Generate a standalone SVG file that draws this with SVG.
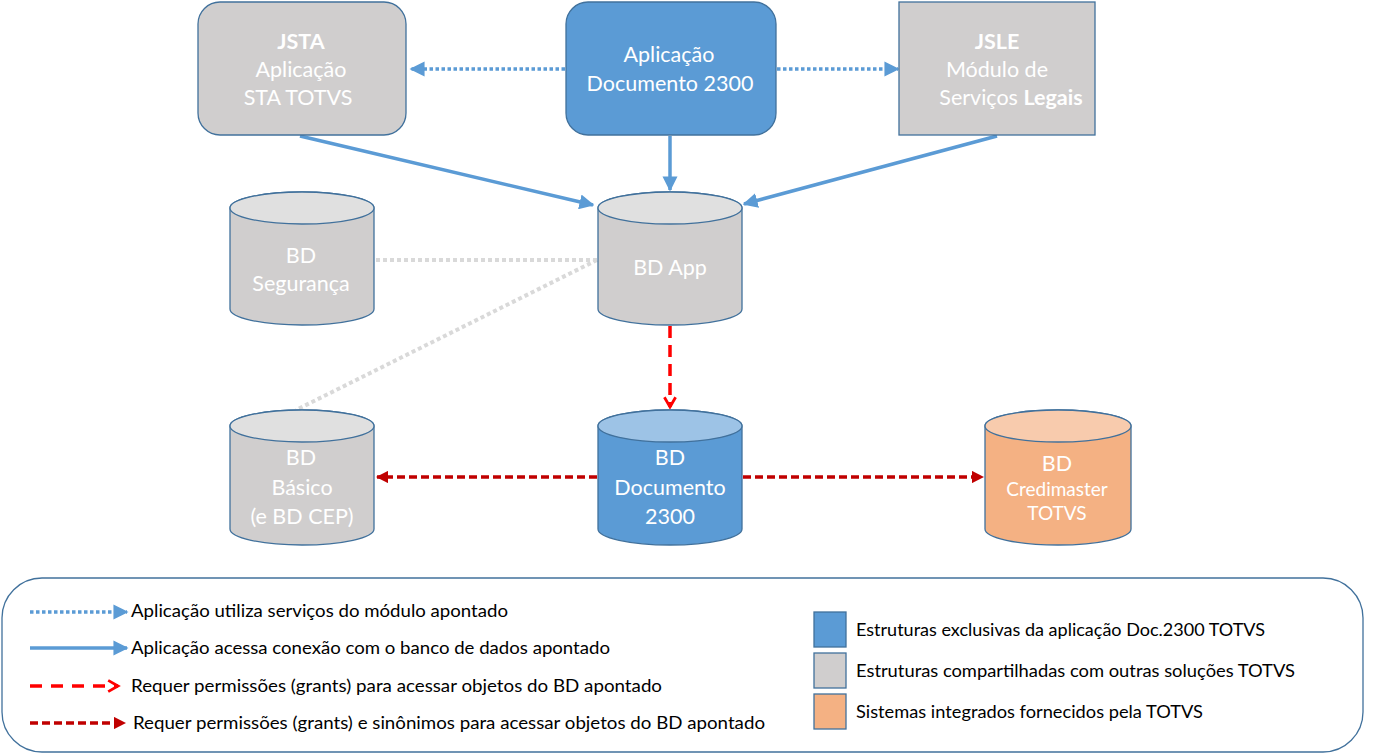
<svg xmlns="http://www.w3.org/2000/svg" width="1390" height="755" viewBox="0 0 1390 755">
<style>
.t{font-family:Lato,"Open Sans","Liberation Sans",sans-serif;fill:#fff;text-anchor:middle;font-size:21.5px}
.s{font-size:19px}
.lg{font-family:Lato,"Open Sans","Liberation Sans",sans-serif;fill:#000;font-size:17.5px}
.box{stroke:#41719c;stroke-width:1.3}
.gray{fill:#d0cece}
.blue{fill:#5b9bd5}
.orange{fill:#f4b183}
.dot{stroke:#5b9bd5;stroke-width:3.5;stroke-dasharray:3.5 2.5;fill:none}
.sol{stroke:#5b9bd5;stroke-width:3.5;fill:none}
.gdot{stroke:#d9d9d9;stroke-width:4;stroke-dasharray:4 3;fill:none}
.red{stroke:#ff0000;stroke-width:3.5;stroke-dasharray:12 7;fill:none}
.dred{stroke:#c00000;stroke-width:3.5;stroke-dasharray:8 4;fill:none}
</style>
<defs>
<marker id="ab" viewBox="0 0 10 10" refX="9" refY="5" markerWidth="4.3" markerHeight="4.3" orient="auto" markerUnits="strokeWidth"><path d="M0,0 L10,5 L0,10 z" fill="#5b9bd5"/></marker>
<marker id="ar" viewBox="0 0 10 10" refX="8" refY="5" markerWidth="4" markerHeight="4" orient="auto" markerUnits="strokeWidth"><path d="M1,1 L8,5 L1,9" fill="none" stroke="#ff0000" stroke-width="2"/></marker>
<marker id="ad" viewBox="0 0 10 10" refX="9" refY="5" markerWidth="3.5" markerHeight="3.5" orient="auto" markerUnits="strokeWidth"><path d="M0,0 L10,5 L0,10 z" fill="#c00000"/></marker>
</defs>

<g id="connectors">
<line class="dot" x1="565" y1="69" x2="411" y2="69" marker-end="url(#ab)"/>
<line class="dot" x1="777" y1="69" x2="898" y2="69" marker-end="url(#ab)"/>
<line class="sol" x1="300" y1="136" x2="593" y2="205" marker-end="url(#ab)"/>
<line class="sol" x1="670" y1="136" x2="670" y2="190" marker-end="url(#ab)"/>
<line class="sol" x1="997" y1="136" x2="744" y2="204" marker-end="url(#ab)"/>
<line class="gdot" x1="376" y1="260" x2="597" y2="260"/>
<line class="gdot" x1="597" y1="260" x2="296" y2="410"/>
<line class="red" x1="670" y1="326" x2="670" y2="407" marker-end="url(#ar)"/>
<line class="dred" x1="597" y1="477" x2="377" y2="477" marker-end="url(#ad)"/>
<line class="dred" x1="743" y1="477" x2="983" y2="477" marker-end="url(#ad)"/>
</g>

<g id="jsta">
<rect class="box gray" x="198" y="2" width="208" height="133" rx="22"/>
<text class="t" x="301" y="49" font-weight="bold">JSTA</text>
<text class="t" x="301" y="77">Aplicação</text>
<text class="t" x="298" y="105">STA TOTVS</text>
</g>
<g id="app2300">
<rect class="box blue" x="566" y="2" width="210" height="133" rx="22"/>
<text class="t" x="669" y="62">Aplicação</text>
<text class="t" x="670" y="91">Documento 2300</text>
</g>
<g id="jsle">
<rect class="box gray" x="899" y="2" width="196" height="133"/>
<text class="t" x="997" y="49" font-weight="bold">JSLE</text>
<text class="t" x="997" y="77">Módulo de</text>
<text class="t" x="1011" y="105">Serviços <tspan font-weight="bold">Legais</tspan></text>
</g>

<g id="bdseg">
<path class="box gray" d="M230,208 A72,16 0 0 1 374,208 L374,309 A72,16 0 0 1 230,309 Z"/>
<ellipse class="box" cx="302" cy="208" rx="72" ry="16" fill="#e0e0e0"/>
<text class="t" x="301" y="263">BD</text>
<text class="t" x="301" y="291">Segurança</text>
</g>
<g id="bdapp">
<path class="box gray" d="M598,208 A72,16 0 0 1 742,208 L742,309 A72,16 0 0 1 598,309 Z"/>
<ellipse class="box" cx="670" cy="208" rx="72" ry="16" fill="#e0e0e0"/>
<text class="t" x="670" y="275">BD App</text>
</g>
<g id="bdbasico">
<path class="box gray" d="M230,426 A72,16 0 0 1 374,426 L374,529 A72,16 0 0 1 230,529 Z"/>
<ellipse class="box" cx="302" cy="426" rx="72" ry="16" fill="#e0e0e0"/>
<text class="t" x="301" y="465">BD</text>
<text class="t" x="302" y="495">Básico</text>
<text class="t" x="302" y="524">(e BD CEP)</text>
</g>
<g id="bddoc">
<path class="box blue" d="M598,426 A72,16 0 0 1 742,426 L742,529 A72,16 0 0 1 598,529 Z"/>
<ellipse class="box" cx="670" cy="426" rx="72" ry="16" fill="#9dc3e6"/>
<text class="t" x="670" y="465">BD</text>
<text class="t" x="670" y="495">Documento</text>
<text class="t" x="670" y="524">2300</text>
</g>
<g id="bdcred">
<path class="box orange" d="M985,426 A73,16 0 0 1 1131,426 L1131,529 A73,16 0 0 1 985,529 Z"/>
<ellipse class="box" cx="1058" cy="426" rx="73" ry="16" fill="#f8cbad"/>
<text class="t" x="1057" y="471">BD</text>
<text class="t s" x="1057" y="496">Credimaster</text>
<text class="t s" x="1057" y="520">TOTVS</text>
</g>

<g id="legend">
<rect x="2" y="578" width="1361" height="174" rx="40" fill="#fff" stroke="#41719c" stroke-width="1.3"/>
<line class="dot" x1="30" y1="612" x2="127" y2="612" marker-end="url(#ab)"/>
<text class="lg" x="131" y="617" textLength="377" lengthAdjust="spacingAndGlyphs">Aplicação utiliza serviços do módulo apontado</text>
<line class="sol" x1="30" y1="648" x2="127" y2="648" marker-end="url(#ab)"/>
<text class="lg" x="131" y="654" textLength="479" lengthAdjust="spacingAndGlyphs">Aplicação acessa conexão com o banco de dados apontado</text>
<line class="red" x1="30" y1="686" x2="118" y2="686" marker-end="url(#ar)" style="stroke-dasharray:12 9"/>
<text class="lg" x="131" y="692" textLength="531" lengthAdjust="spacingAndGlyphs">Requer permissões (grants) para acessar objetos do BD apontado</text>
<line class="dred" x1="30" y1="723" x2="125" y2="723" marker-end="url(#ad)"/>
<text class="lg" x="133" y="729" textLength="632" lengthAdjust="spacingAndGlyphs">Requer permissões (grants) e sinônimos para acessar objetos do BD apontado</text>
<rect class="box blue" x="814" y="612" width="32" height="35"/>
<text class="lg" x="856" y="636" textLength="409" lengthAdjust="spacingAndGlyphs">Estruturas exclusivas da aplicação Doc.2300 TOTVS</text>
<rect class="box gray" x="814" y="653" width="32" height="35"/>
<text class="lg" x="856" y="677" textLength="439" lengthAdjust="spacingAndGlyphs">Estruturas compartilhadas com outras soluções TOTVS</text>
<rect class="box orange" x="814" y="694" width="32" height="35"/>
<text class="lg" x="856" y="718" textLength="347" lengthAdjust="spacingAndGlyphs">Sistemas integrados fornecidos pela TOTVS</text>
</g>
</svg>
